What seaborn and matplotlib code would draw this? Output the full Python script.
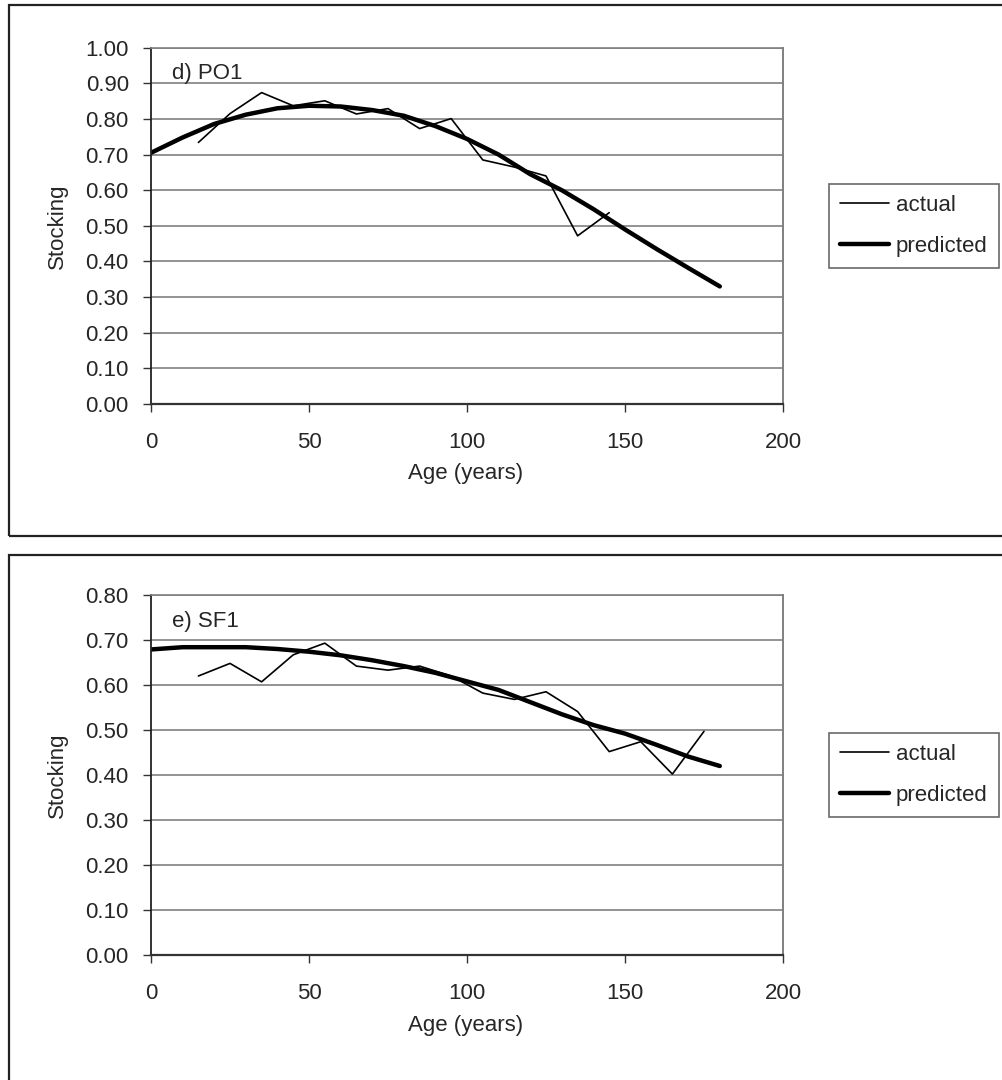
import pandas as pd
import matplotlib
matplotlib.use('Agg')
import matplotlib.pyplot as plt
import matplotlib.patches as patches
import seaborn as sns

# panel d) PO1
po1_age_actual = [15, 25, 35, 45, 55, 65, 75, 85, 95, 105, 115, 125, 135, 145]
po1_actual = [0.734, 0.815, 0.874, 0.837, 0.851, 0.814, 0.829, 0.773, 0.801,
              0.685, 0.665, 0.640, 0.472, 0.537]
po1_age_pred = [0, 10, 20, 30, 40, 50, 60, 70, 80, 90, 100, 110, 120, 130,
                140, 150, 160, 170, 180]
po1_pred = [0.705, 0.748, 0.786, 0.812, 0.830, 0.837, 0.835, 0.825, 0.809,
            0.780, 0.744, 0.700, 0.645, 0.600, 0.547, 0.490, 0.435, 0.382, 0.330]

# panel e) SF1
sf1_age_actual = [15, 25, 35, 45, 55, 65, 75, 85, 95, 105, 115, 125, 135,
                  145, 155, 165, 175]
sf1_actual = [0.620, 0.648, 0.607, 0.667, 0.693, 0.642, 0.633, 0.642, 0.620,
              0.582, 0.568, 0.585, 0.541, 0.452, 0.474, 0.402, 0.497]
sf1_age_pred = [0, 10, 20, 30, 40, 50, 60, 70, 80, 90, 100, 110, 120, 130,
                140, 150, 160, 170, 180]
sf1_pred = [0.679, 0.684, 0.684, 0.684, 0.680, 0.674, 0.666, 0.655, 0.642,
            0.627, 0.608, 0.589, 0.562, 0.535, 0.511, 0.492, 0.467, 0.441, 0.420]

panels = [
    ('d) PO1', po1_age_actual, po1_actual, po1_age_pred, po1_pred, 1.0),
    ('e) SF1', sf1_age_actual, sf1_actual, sf1_age_pred, sf1_pred, 0.8),
]

sns.set_style('white')
plt.rcParams['font.family'] = ['Liberation Sans', 'DejaVu Sans']

W, H = 1003, 1080
fig = plt.figure(figsize=(W / 100, H / 100), dpi=100)

# pixel boxes for the two plot areas (top, bottom) and outer frames
ax_px = [(47.7, 404), (595, 955)]
frame_px = [(5.5, 536), (555, 1095)]
FS = 16

for (label, xa, ya, xp, yp, ymax), (top, bot), (ftop, fbot) in zip(panels, ax_px, frame_px):
    fig.patches.append(patches.Rectangle(
        (9 / W, 1 - fbot / H), (1012 - 9) / W, (fbot - ftop) / H,
        transform=fig.transFigure, fill=False, lw=1.6, edgecolor='#222222'))

    ax = fig.add_axes([151 / W, 1 - bot / H, (783 - 151) / W, (bot - top) / H])
    df_a = pd.DataFrame({'Age': xa, 'Stocking': ya})
    df_p = pd.DataFrame({'Age': xp, 'Stocking': yp})
    sns.lineplot(data=df_a, x='Age', y='Stocking', ax=ax, color='black',
                 lw=1.2, label='actual')
    sns.lineplot(data=df_p, x='Age', y='Stocking', ax=ax, color='black',
                 lw=3.2, label='predicted')

    ax.set_xlim(0, 200)
    ax.set_ylim(0, ymax)
    ax.set_xticks([0, 50, 100, 150, 200])
    yt = [i / 10 for i in range(int(round(ymax * 10)) + 1)]
    ax.set_yticks(yt)
    ax.set_yticklabels(['%.2f' % v for v in yt])
    ax.yaxis.grid(True, color='#808080', lw=1.2)
    ax.xaxis.grid(False)
    ax.set_axisbelow(True)

    ax.spines['left'].set_color('#222222')
    ax.spines['left'].set_linewidth(1.3)
    ax.spines['bottom'].set_color('#333333')
    ax.spines['bottom'].set_linewidth(1.6)
    ax.spines['right'].set_color('#808080')
    ax.spines['right'].set_linewidth(1.4)
    ax.spines['top'].set_color('#808080')
    ax.spines['top'].set_linewidth(1.2)

    ax.tick_params(axis='y', direction='out', length=6, width=1, color='#333333',
                   pad=10, labelsize=FS, left=True)
    ax.tick_params(axis='x', direction='out', length=6, width=1, color='#333333',
                   pad=14, labelsize=FS, bottom=True)

    ax.set_xlabel('Age (years)', fontsize=FS)
    ax.set_ylabel('Stocking', fontsize=FS)
    h = bot - top
    ax.xaxis.set_label_coords(0.497, -70 / h)
    ax.xaxis.label.set_va('center')
    ax.yaxis.set_label_coords(-94 / 632, 0.5)
    ax.yaxis.label.set_va('center')

    ax.text(21 / 632, 1 - 26 / h, label, transform=ax.transAxes, fontsize=FS,
            va='center', ha='left')

    leg = ax.legend(loc='center left', bbox_to_anchor=((829 - 151) / 632, 0.5),
                    fontsize=FS, frameon=True, fancybox=False, handlelength=2.2,
                    handletextpad=0.3, labelspacing=0.9, borderpad=0.5,
                    borderaxespad=0)
    leg.get_frame().set_edgecolor('#444444')
    leg.get_frame().set_linewidth(1.2)

fig.savefig('out.png', dpi=100)
